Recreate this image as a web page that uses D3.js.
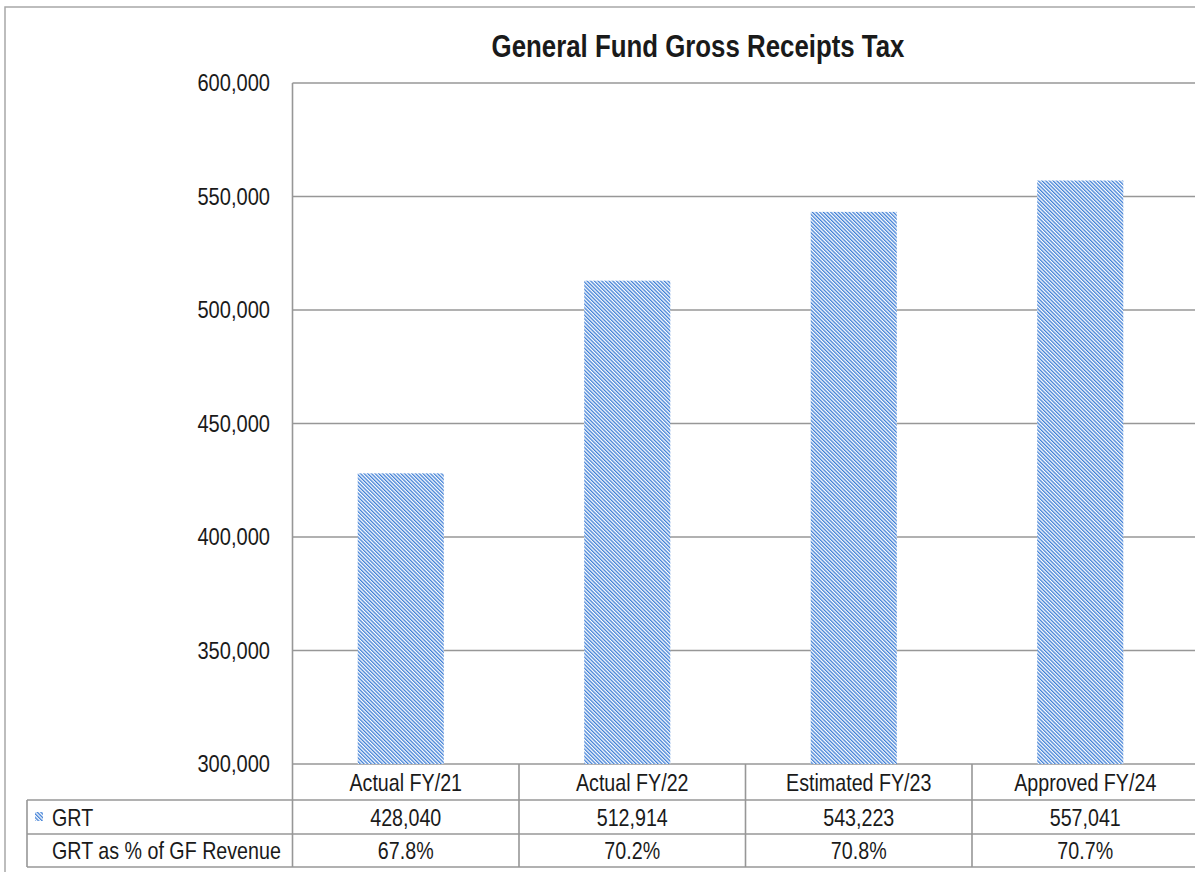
<!DOCTYPE html>
<html>
<head>
<meta charset="utf-8">
<script src="https://cdn.jsdelivr.net/npm/d3@7"></script>
<style>
  html, body { margin: 0; padding: 0; background: #fff; }
  svg { display: block; }
  text { font-family: "Liberation Sans", Arial, sans-serif; fill: #1a1a1a; }
</style>
</head>
<body>
<svg id="chart" width="1195" height="872"></svg>
<script>
// General Fund Gross Receipts Tax, in thousands of dollars
const categories = ["Actual FY/21", "Actual FY/22", "Estimated FY/23", "Approved FY/24"];
const grtValues = [428040, 512914, 543223, 557041];
const grtShareLabels = ["67.8%", "70.2%", "70.8%", "70.7%"];
const yTicks = [300000, 350000, 400000, 450000, 500000, 550000, 600000];
const seriesName = "GRT";
const shareRowName = "GRT as % of GF Revenue";
const chartTitle = "General Fund Gross Receipts Tax";

const W = 1195, H = 872;
const svg = d3.select("#chart");

const plot = { left: 292.5, right: 1198.5, top: 83, bottom: 764 };
const rowH = [36, 34, 33];
const tableLeft = 27;
const NARROW = 0.82; // horizontal squeeze for a narrow sans face

// move x/y into a transform so the glyphs can be condensed horizontally
function narrow(sel) {
  sel.each(function () {
    const t = d3.select(this);
    const tx = +t.attr("x") || 0, ty = +t.attr("y") || 0;
    t.attr("x", 0).attr("y", 0)
      .attr("transform", `translate(${tx},${ty}) scale(${NARROW},1)`);
  });
}

const x = d3.scaleBand().domain(categories).range([plot.left, plot.right]).padding(0);
const y = d3.scaleLinear().domain([300000, 600000]).range([plot.bottom, plot.top]);

// diagonal hatch fill for the bars
const defs = svg.append("defs");
defs.append("pattern")
  .attr("id", "hatch")
  .attr("patternUnits", "userSpaceOnUse")
  .attr("width", 2.6).attr("height", 2.6)
  .attr("patternTransform", "rotate(-45)")
  .call(p => {
    p.append("rect").attr("width", 2.6).attr("height", 2.6).attr("fill", "#ffffff");
    p.append("rect").attr("width", 1.3).attr("height", 2.6).attr("fill", "#3f7fd6");
  });

const lineColor = "#979797";

// outer frame (runs off the right and bottom edges)
svg.append("rect")
  .attr("x", 5).attr("y", 7).attr("width", W + 10).attr("height", H + 10)
  .attr("fill", "none").attr("stroke", "#a8a8a8").attr("stroke-width", 1.5);

// title
svg.append("text")
  .attr("x", 698).attr("y", 57)
  .attr("text-anchor", "middle")
  .attr("font-size", 31.5).attr("font-weight", "bold")
  .text(chartTitle)
  .call(narrow);

// horizontal gridlines
svg.append("g").selectAll("line")
  .data(yTicks)
  .join("line")
  .attr("x1", plot.left).attr("x2", plot.right)
  .attr("y1", d => y(d)).attr("y2", d => y(d))
  .attr("stroke", lineColor).attr("stroke-width", 1.6);

// y axis labels
const yAxis = d3.axisLeft(y).tickValues(yTicks).tickSize(0).tickPadding(22.5)
  .tickFormat(d3.format(","));
svg.append("g")
  .attr("transform", `translate(${plot.left},0)`)
  .call(yAxis)
  .call(g => g.select(".domain").remove())
  .call(g => g.selectAll("text")
    .attr("font-size", 24.5).attr("fill", "#1a1a1a")
    .style("font-family", "'Liberation Sans', Arial, sans-serif")
    .call(narrow));

// plot-area left edge
svg.append("line")
  .attr("x1", plot.left).attr("x2", plot.left)
  .attr("y1", plot.top).attr("y2", plot.bottom + rowH[0] + rowH[1] + rowH[2])
  .attr("stroke", lineColor).attr("stroke-width", 1.6);

// bars
const barW = x.bandwidth() * 0.38;
svg.append("g").selectAll("rect")
  .data(categories.map((c, i) => ({ c, v: grtValues[i] })))
  .join("rect")
  .attr("x", d => x(d.c) + (x.bandwidth() - barW) / 2 - 5)
  .attr("width", barW)
  .attr("y", d => y(d.v))
  .attr("height", d => y(300000) - y(d.v))
  .attr("fill", "url(#hatch)");

// data table below the plot
const r0 = plot.bottom, r1 = r0 + rowH[0], r2 = r1 + rowH[1], r3 = r2 + rowH[2];
const table = svg.append("g").attr("stroke", lineColor).attr("stroke-width", 1.6);
table.append("line").attr("x1", tableLeft).attr("x2", plot.right).attr("y1", r1).attr("y2", r1);
table.append("line").attr("x1", tableLeft).attr("x2", plot.right).attr("y1", r2).attr("y2", r2);
table.append("line").attr("x1", tableLeft).attr("x2", plot.right).attr("y1", r3).attr("y2", r3);
table.append("line").attr("x1", tableLeft).attr("x2", tableLeft).attr("y1", r1).attr("y2", r3);
table.selectAll("line.col")
  .data(categories.slice(1))
  .join("line")
  .attr("class", "col")
  .attr("x1", d => x(d)).attr("x2", d => x(d))
  .attr("y1", r0).attr("y2", r3);

const cx = d => x(d) + x.bandwidth() / 2;
const cellFont = 24;

svg.append("g").selectAll("text")
  .data(categories)
  .join("text")
  .attr("x", d => cx(d)).attr("y", (r0 + r1) / 2 + 8.5)
  .attr("text-anchor", "middle").attr("font-size", cellFont)
  .text(d => d)
  .call(narrow);

svg.append("g").selectAll("text")
  .data(categories.map((c, i) => ({ c, v: grtValues[i] })))
  .join("text")
  .attr("x", d => cx(d.c)).attr("y", (r1 + r2) / 2 + 8.5)
  .attr("text-anchor", "middle").attr("font-size", cellFont)
  .text(d => d3.format(",")(d.v))
  .call(narrow);

svg.append("g").selectAll("text")
  .data(categories.map((c, i) => ({ c, v: grtShareLabels[i] })))
  .join("text")
  .attr("x", d => cx(d.c)).attr("y", (r2 + r3) / 2 + 8)
  .attr("text-anchor", "middle").attr("font-size", cellFont)
  .text(d => d.v)
  .call(narrow);

// row headers with legend key
svg.append("rect")
  .attr("x", 35).attr("y", (r1 + r2) / 2 - 5).attr("width", 8).attr("height", 9)
  .attr("fill", "url(#hatch)");
svg.append("text")
  .attr("x", 52).attr("y", (r1 + r2) / 2 + 8.5)
  .attr("font-size", cellFont)
  .text(seriesName)
  .call(narrow);
svg.append("text")
  .attr("x", 52).attr("y", (r2 + r3) / 2 + 8)
  .attr("font-size", cellFont)
  .text(shareRowName)
  .call(narrow);
</script>
</body>
</html>
